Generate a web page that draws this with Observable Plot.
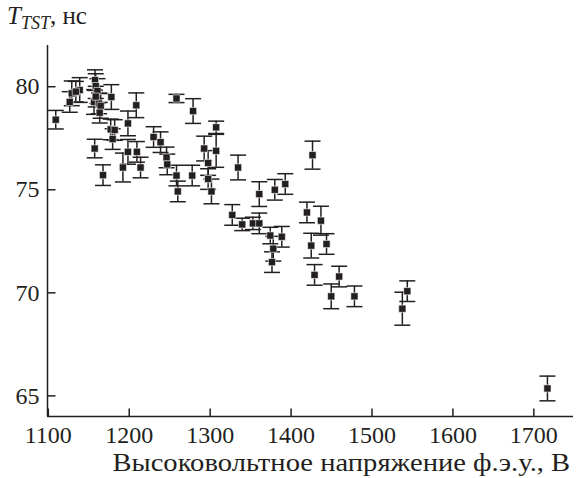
<!DOCTYPE html>
<html><head><meta charset="utf-8">
<script src="https://cdn.jsdelivr.net/npm/d3@7"></script>
<script src="https://cdn.jsdelivr.net/npm/@observablehq/plot@0.6"></script>
<style>
body{margin:0;background:#fff;}
#wrap{position:relative;width:577px;height:478px;font-family:"Liberation Serif","Times New Roman",serif;color:#231f20;}
#title{position:absolute;left:7px;top:2px;font-size:25px;white-space:nowrap;}
#title sub{font-size:18px;vertical-align:-5px;line-height:0;}
#xlabel{position:absolute;right:7px;top:450px;font-size:26px;line-height:26px;white-space:nowrap;transform:scaleX(1.1);transform-origin:right center;}
#chart{position:absolute;left:0;top:0;}
</style></head><body>
<div id="wrap"><div id="chart"></div><div id="title"><i>T</i><sub><i>TST</i></sub>, нс</div><div id="xlabel">Высоковольтное напряжение ф.э.у., В</div></div>
<script>
const voltage = [1109.2,1126.5,1129.0,1138.8,1134.0,1157.7,1158.6,1160.7,1156.5,1162.6,1164.7,1158.6,1163.5,1157.3,1177.9,1167.6,1177.1,1179.5,1182.0,1198.4,1208.7,1192.2,1214.0,1198.4,1209.5,1230.1,1238.7,1246.1,1247.0,1258.4,1258.4,1277.8,1260.0,1278.9,1307.4,1292.6,1307.4,1297.5,1297.5,1301.6,1334.5,1327.3,1339.6,1352.8,1360.7,1360.7,1379.9,1392.8,1374.3,1388.5,1378.0,1376.4,1426.5,1419.6,1436.9,1424.9,1443.8,1429.0,1459.4,1449.6,1478.3,1537.5,1543.6,1716.8];
const tst = [78.40,79.26,79.68,79.84,79.76,80.32,80.03,79.79,79.26,79.19,79.07,79.52,78.74,77.00,79.50,75.71,77.93,77.46,77.90,78.22,79.10,76.08,76.08,76.84,76.84,77.56,77.31,76.57,76.23,79.43,75.69,75.69,74.92,78.82,78.03,77.00,76.89,76.30,75.52,74.92,76.08,73.78,73.32,73.37,73.37,74.79,75.00,75.28,72.78,72.72,72.14,71.49,76.68,73.90,73.50,72.29,72.37,70.87,70.79,69.83,69.83,69.23,70.08,65.36];
const err = [0.45,0.5,0.6,0.6,0.5,0.5,0.6,0.6,0.6,0.5,0.6,0.5,0.5,0.45,0.6,0.5,0.5,0.5,0.5,0.6,0.6,0.7,0.5,0.6,0.5,0.5,0.5,0.5,0.5,0.2,0.5,0.5,0.5,0.6,0.3,0.6,0.8,0.6,0.5,0.6,0.6,0.5,0.3,0.3,0.5,0.6,0.5,0.5,0.4,0.5,0.6,0.5,0.68,0.5,0.7,0.6,0.5,0.5,0.5,0.6,0.5,0.8,0.5,0.6];
const xTicks = [1100,1200,1300,1400,1500,1600,1700];
const yTicks = [65,70,75,80];
const xDomain = [1099,1749];
const yDomain = [64,82];

const ink = "#231f20";
const serif = '"Liberation Serif","Times New Roman",serif';
const data = voltage.map((v,i)=>({v, t: tst[i], e: err[i]}));
const cap = {draw(ctx){ctx.moveTo(-8,0);ctx.lineTo(8,0);}};
const tickUp = {draw(ctx){ctx.moveTo(0,0);ctx.lineTo(0,-8);}};
const tickRight = {draw(ctx){ctx.moveTo(0,0);ctx.lineTo(8,0);}};
const sq = {draw(ctx){ctx.rect(-3.6,-3.6,7.2,7.2);}};

const plot = Plot.plot({
  width:577, height:478, marginTop:45, marginBottom:62, marginLeft:47, marginRight:4,
  x:{domain:xDomain}, y:{domain:yDomain},
  style:{fontFamily:serif, fontSize:"24px", color:ink, background:"white"},
  marks:[
    Plot.ruleX(data,{x:"v", y1:d=>d.t-d.e, y2:d=>d.t+d.e, stroke:ink, strokeWidth:1.5}),
    Plot.dot(data,{x:"v", y:d=>d.t+d.e, symbol:cap, stroke:ink, strokeWidth:1.5, fill:"none"}),
    Plot.dot(data,{x:"v", y:d=>d.t-d.e, symbol:cap, stroke:ink, strokeWidth:1.5, fill:"none"}),
    Plot.dot(data,{x:"v", y:"t", symbol:sq, fill:ink, stroke:"white", strokeWidth:0.6}),
    Plot.ruleY([yDomain[0]],{stroke:ink, strokeWidth:1.5}),
    Plot.ruleX([xDomain[0]],{stroke:ink, strokeWidth:1.5}),
    Plot.dot(xTicks,{x:d=>d, frameAnchor:"bottom", symbol:tickUp, stroke:ink, strokeWidth:1.5}),
    Plot.dot(yTicks,{y:d=>d, frameAnchor:"left", symbol:tickRight, stroke:ink, strokeWidth:1.5}),
    Plot.axisX(xTicks,{tickSize:0, tickPadding:9, label:null, fontSize:24, fontFamily:serif, fill:ink, tickFormat:d=>String(d)}),
    Plot.axisY(yTicks,{tickSize:0, tickPadding:8, label:null, fontSize:24, fontFamily:serif, fill:ink, tickFormat:d=>String(d)})
  ]
});
document.getElementById("chart").appendChild(plot);
</script>
</body></html>
